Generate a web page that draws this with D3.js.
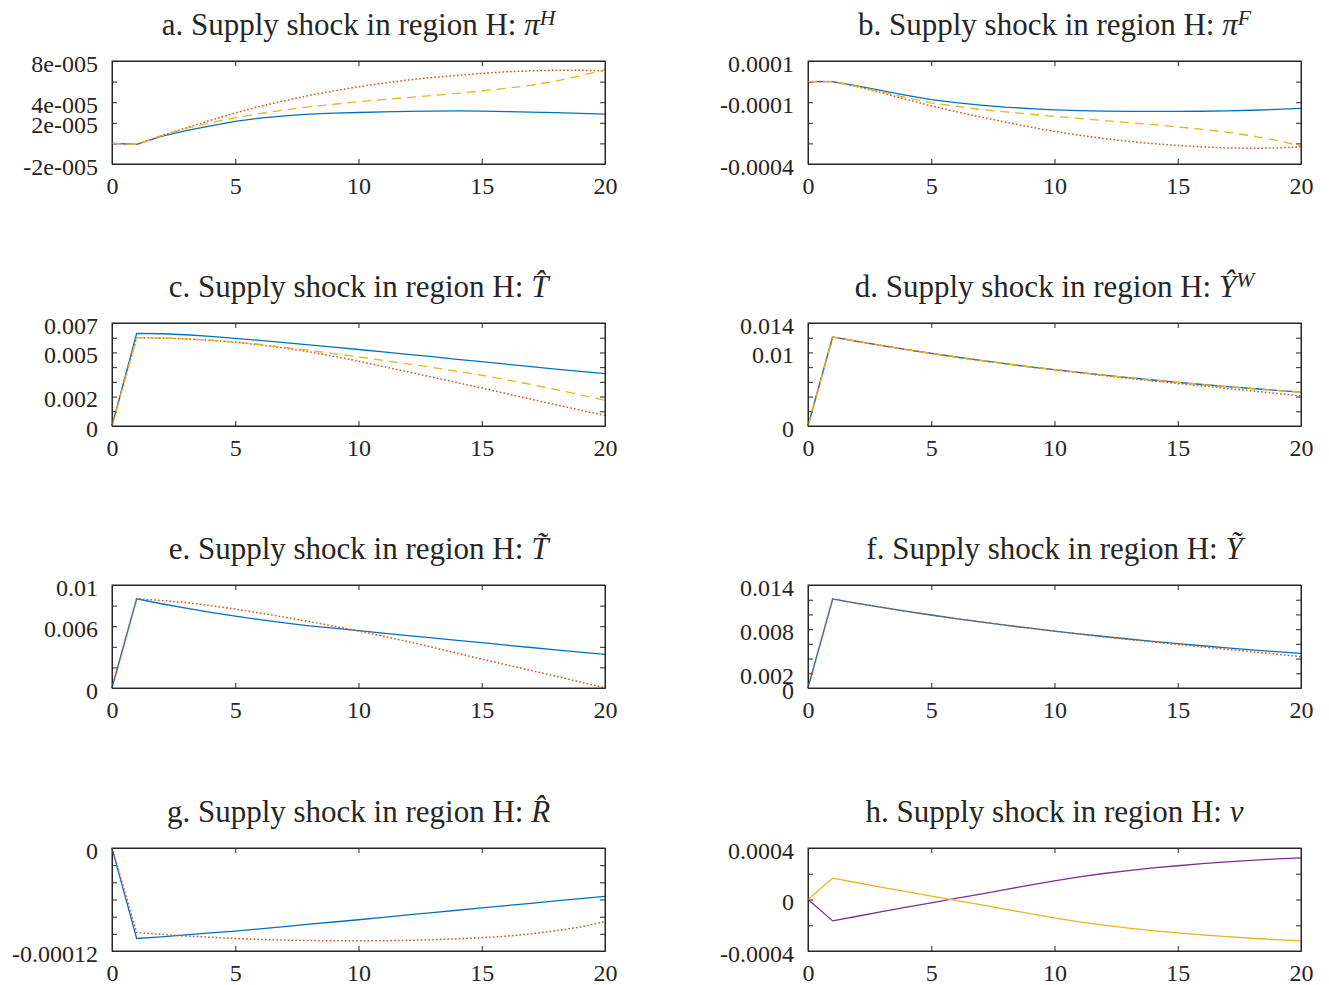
<!DOCTYPE html>
<html><head><meta charset="utf-8">
<script src="https://cdn.jsdelivr.net/npm/d3@7"></script>
<style>
body{margin:0;background:#fff}
text{font-family:"Liberation Serif","Times New Roman",serif;fill:#262626}
</style></head><body>
<svg id="c" width="1329" height="985"></svg>
<script>
// ---------- data ----------
const periods = [0,1,2,3,4,5,6,7,8,9,10,11,12,13,14,15,16,17,18,19,20];
const xTicks = [0,5,10,15,20];

// a. pi^H
const aBlue   = [0,-0.1e-5,0.68e-5,1.23e-5,1.71e-5,2.13e-5,2.45e-5,2.68e-5,2.84e-5,2.94e-5,3.0e-5,3.06e-5,3.11e-5,3.14e-5,3.15e-5,3.13e-5,3.09e-5,3.04e-5,2.98e-5,2.91e-5,2.84e-5];
const aRed    = [0,-0.1e-5,0.75e-5,1.5e-5,2.25e-5,2.95e-5,3.6e-5,4.15e-5,4.65e-5,5.1e-5,5.5e-5,5.85e-5,6.15e-5,6.4e-5,6.6e-5,6.8e-5,6.95e-5,7.05e-5,7.1e-5,7.1e-5,7.05e-5];
const aYellow = [0,-0.1e-5,0.75e-5,1.45e-5,2.0e-5,2.5e-5,2.9e-5,3.25e-5,3.55e-5,3.8e-5,4.05e-5,4.25e-5,4.45e-5,4.65e-5,4.85e-5,5.1e-5,5.35e-5,5.65e-5,6.05e-5,6.55e-5,7.15e-5];
const aTicks = [-2e-5,0,2e-5,4e-5,6e-5,8e-5];
const aTickLabels = ["-2e-005","","2e-005","4e-005","","8e-005"];

// b. pi^F
const bBlue   = [0,0,-0.21e-4,-0.44e-4,-0.67e-4,-0.87e-4,-1.02e-4,-1.14e-4,-1.24e-4,-1.31e-4,-1.37e-4,-1.41e-4,-1.43e-4,-1.45e-4,-1.45e-4,-1.45e-4,-1.44e-4,-1.42e-4,-1.39e-4,-1.35e-4,-1.3e-4];
const bRed    = [0,0,-0.25e-4,-0.55e-4,-0.87e-4,-1.18e-4,-1.46e-4,-1.72e-4,-1.96e-4,-2.2e-4,-2.42e-4,-2.6e-4,-2.76e-4,-2.9e-4,-3.01e-4,-3.1e-4,-3.17e-4,-3.22e-4,-3.24e-4,-3.22e-4,-3.17e-4];
const bYellow = [0,0,-0.23e-4,-0.5e-4,-0.78e-4,-1.03e-4,-1.2e-4,-1.35e-4,-1.47e-4,-1.58e-4,-1.69e-4,-1.79e-4,-1.89e-4,-1.99e-4,-2.09e-4,-2.2e-4,-2.32e-4,-2.46e-4,-2.63e-4,-2.85e-4,-3.13e-4];
const bTicks = [-4e-4,-3e-4,-2e-4,-1e-4,0,1e-4];
const bTickLabels = ["-0.0004","","","-0.0001","","0.0001"];

// c. T hat
const cBlue   = [0,0.0063,0.00627,0.0062,0.00609,0.00596,0.00582,0.00567,0.00551,0.00536,0.0052,0.00504,0.00487,0.00471,0.00453,0.00438,0.0042,0.00404,0.00387,0.00371,0.00356];
const cRed    = [0,0.006,0.00598,0.00592,0.00583,0.0057,0.00552,0.0053,0.00504,0.00474,0.0044,0.00404,0.00368,0.00332,0.00295,0.00258,0.0022,0.00182,0.00145,0.00108,0.00072];
const cYellow = [0,0.006,0.00598,0.00592,0.00583,0.0057,0.00554,0.00535,0.00514,0.00492,0.0047,0.00445,0.00422,0.00398,0.00372,0.00345,0.00314,0.00282,0.00248,0.00212,0.00175];
const cTicks = [0,0.001,0.002,0.003,0.004,0.005,0.006,0.007];
const cTickLabels = ["0","","0.002","","","0.005","","0.007"];

// d. Y hat W
const dBlue   = [0,0.0121,0.0115,0.01093,0.01039,0.00987,0.00938,0.00892,0.00847,0.00805,0.00766,0.00728,0.00692,0.00657,0.00625,0.00594,0.00564,0.00536,0.0051,0.00485,0.00461];
const dRed    = [0,0.0121,0.0115,0.01093,0.01039,0.00987,0.00938,0.00891,0.00846,0.00803,0.00763,0.00724,0.00686,0.00648,0.00612,0.00578,0.00545,0.0051,0.00477,0.00443,0.0041];
const dYellow = [0,0.0121,0.0115,0.01092,0.01038,0.00986,0.00937,0.00891,0.00847,0.00805,0.00766,0.00728,0.00691,0.00657,0.00624,0.00593,0.00563,0.00535,0.00509,0.00484,0.0046];
const dTicks = [0,0.002,0.004,0.006,0.008,0.01,0.012,0.014];
const dTickLabels = ["0","","","","","0.01","","0.014"];

// e. T tilde
const eBlue = [0,0.00866,0.00818,0.00775,0.00735,0.00698,0.00664,0.00633,0.00604,0.00581,0.00558,0.00533,0.00509,0.00486,0.00463,0.0044,0.00416,0.00393,0.0037,0.00348,0.00326];
const eRed  = [0,0.00866,0.0085,0.0083,0.008,0.00766,0.00728,0.00688,0.00645,0.006,0.00554,0.00503,0.0045,0.00395,0.00338,0.0028,0.00225,0.0017,0.00115,0.00058,0.00002];
const eTicks = [0,0.002,0.004,0.006,0.008,0.01];
const eTickLabels = ["0","","","0.006","","0.01"];

// f. Y tilde
const fBlue = [0,0.0121,0.0115,0.01095,0.01042,0.00992,0.00944,0.00898,0.00854,0.00813,0.00774,0.00736,0.007,0.00666,0.00634,0.00603,0.00574,0.00546,0.00519,0.00494,0.0047];
const fRed  = [0,0.0121,0.0115,0.01095,0.01042,0.00992,0.00944,0.00898,0.00854,0.00812,0.00772,0.00733,0.00696,0.0066,0.00625,0.00592,0.00558,0.00525,0.00493,0.00461,0.00425];
const fTicks = [0,0.002,0.004,0.006,0.008,0.01,0.012,0.014];
const fTickLabels = ["0","0.002","","","0.008","","","0.014"];

// g. R hat
const gBlue = [0,-1.054e-4,-1.035e-4,-1.013e-4,-0.99e-4,-0.968e-4,-0.942e-4,-0.915e-4,-0.888e-4,-0.862e-4,-0.836e-4,-0.808e-4,-0.78e-4,-0.752e-4,-0.725e-4,-0.698e-4,-0.671e-4,-0.644e-4,-0.617e-4,-0.59e-4,-0.564e-4];
const gRed  = [0,-0.985e-4,-1.005e-4,-1.025e-4,-1.04e-4,-1.054e-4,-1.065e-4,-1.073e-4,-1.078e-4,-1.081e-4,-1.082e-4,-1.08e-4,-1.076e-4,-1.068e-4,-1.058e-4,-1.045e-4,-1.027e-4,-1.0e-4,-0.965e-4,-0.92e-4,-0.858e-4];
const gTicks = [-1.2e-4,-1.0e-4,-0.8e-4,-0.6e-4,-0.4e-4,-0.2e-4,0];
const gTickLabels = ["-0.00012","","","","","","0"];

// h. nu
const hPurple = [0,-1.66e-4,-1.3e-4,-0.94e-4,-0.6e-4,-0.26e-4,0.08e-4,0.42e-4,0.77e-4,1.12e-4,1.45e-4,1.75e-4,2.02e-4,2.25e-4,2.45e-4,2.62e-4,2.78e-4,2.92e-4,3.04e-4,3.15e-4,3.24e-4];
const hOrange = [0,1.66e-4,1.3e-4,0.95e-4,0.61e-4,0.27e-4,-0.06e-4,-0.4e-4,-0.75e-4,-1.1e-4,-1.43e-4,-1.73e-4,-1.99e-4,-2.22e-4,-2.42e-4,-2.59e-4,-2.75e-4,-2.89e-4,-3.01e-4,-3.12e-4,-3.22e-4];
const hTicks = [-4e-4,-2e-4,0,2e-4,4e-4];
const hTickLabels = ["-0.0004","","0","","0.0004"];

// ---------- styles ----------
const BLUE = "#0072BD", RED = "#D95319", YELLOW = "#EDB120", PURPLE = "#7E2F8E";
const solid = null, dotted = "1.6,2.2", dashed = "9,6";

const prefix = " Supply shock in region H: ";
const panels = [
  {col:0,row:0,title:[{t:"a."+prefix},{t:"π",i:1},{t:"H",i:1,sup:1}],ticks:aTicks,labels:aTickLabels,
   series:[{d:aBlue,c:BLUE,s:solid},{d:aRed,c:RED,s:dotted},{d:aYellow,c:YELLOW,s:dashed}]},
  {col:1,row:0,title:[{t:"b."+prefix},{t:"π",i:1},{t:"F",i:1,sup:1}],ticks:bTicks,labels:bTickLabels,
   series:[{d:bBlue,c:BLUE,s:solid},{d:bRed,c:RED,s:dotted},{d:bYellow,c:YELLOW,s:dashed}]},
  {col:0,row:1,title:[{t:"c."+prefix},{t:"T\u0302",i:1}],ticks:cTicks,labels:cTickLabels,
   series:[{d:cBlue,c:BLUE,s:solid},{d:cRed,c:RED,s:dotted},{d:cYellow,c:YELLOW,s:dashed}]},
  {col:1,row:1,title:[{t:"d."+prefix},{t:"Y\u0302",i:1},{t:"W",i:1,sup:1}],ticks:dTicks,labels:dTickLabels,
   series:[{d:dBlue,c:BLUE,s:solid},{d:dRed,c:RED,s:dotted},{d:dYellow,c:YELLOW,s:dashed}]},
  {col:0,row:2,title:[{t:"e."+prefix},{t:"T\u0303",i:1}],ticks:eTicks,labels:eTickLabels,
   series:[{d:eBlue,c:BLUE,s:solid},{d:eRed,c:RED,s:dotted}]},
  {col:1,row:2,title:[{t:"f."+prefix},{t:"Y\u0303",i:1}],ticks:fTicks,labels:fTickLabels,
   series:[{d:fBlue,c:BLUE,s:solid},{d:fRed,c:RED,s:dotted}]},
  {col:0,row:3,title:[{t:"g."+prefix},{t:"R\u0302",i:1}],ticks:gTicks,labels:gTickLabels,
   series:[{d:gBlue,c:BLUE,s:solid},{d:gRed,c:RED,s:dotted}]},
  {col:1,row:3,title:[{t:"h."+prefix},{t:"ν",i:1}],ticks:hTicks,labels:hTickLabels,
   series:[{d:hPurple,c:PURPLE,s:solid},{d:hOrange,c:YELLOW,s:solid}]}
];

const colX = [112, 808], W = 493;
const rowY = [61, 323, 585, 848], H = 103;
const svg = d3.select("#c");

panels.forEach(p => {
  const x0 = colX[p.col], y0 = rowY[p.row];
  const g = svg.append("g").attr("transform", `translate(${x0},${y0})`);
  const x = d3.scaleLinear().domain([0,20]).range([0,W]);
  const y = d3.scaleLinear().domain([p.ticks[0], p.ticks[p.ticks.length-1]]).range([H,0]);

  const lab = new Map(p.ticks.map((t,i)=>[t,p.labels[i]]));
  const fs = "24px";

  // axes
  const left = g.append("g").call(d3.axisLeft(y).tickValues(p.ticks).tickSizeInner(-5).tickSizeOuter(0).tickPadding(14).tickFormat(t=>lab.get(t)));
  const right = g.append("g").attr("transform",`translate(${W},0)`).call(d3.axisRight(y).tickValues(p.ticks).tickSizeInner(-5).tickSizeOuter(0).tickFormat(""));
  const bottom = g.append("g").attr("transform",`translate(0,${H})`).call(d3.axisBottom(x).tickValues(xTicks).tickSizeInner(-5).tickSizeOuter(0).tickPadding(13).tickFormat(d3.format("d")));
  const top = g.append("g").call(d3.axisTop(x).tickValues(xTicks).tickSizeInner(-5).tickSizeOuter(0).tickFormat(""));
  [left,right,bottom,top].forEach(a=>{
    a.selectAll("path,line").attr("stroke","#262626").attr("stroke-width",1);
    a.selectAll("text").style("font-size",fs).attr("fill","#262626").style("font-family","'Liberation Serif',serif");
  });
  left.selectAll("text").attr("dy","0.42em");

  // lines
  const line = d3.line().x((d,i)=>x(periods[i])).y(d=>y(d));
  p.series.forEach(s=>{
    g.append("path").datum(s.d).attr("d",line).attr("fill","none")
     .attr("stroke",s.c).attr("stroke-width",s.s===dotted?1.5:1.3)
     .attr("stroke-dasharray",s.s);
  });

  // box
  g.append("rect").attr("width",W).attr("height",H).attr("fill","none").attr("stroke","#262626").attr("stroke-width",1);

  // title
  const tt = g.append("text").attr("x",W/2).attr("y",-26).attr("text-anchor","middle").style("font-size","31px");
  p.title.forEach(part=>{
    const ts = tt.append("tspan").text(part.t);
    if(part.i) ts.style("font-style","italic");
    if(part.sup) ts.attr("dy","-0.45em").style("font-size","70%");
  });
});
</script>
</body></html>
